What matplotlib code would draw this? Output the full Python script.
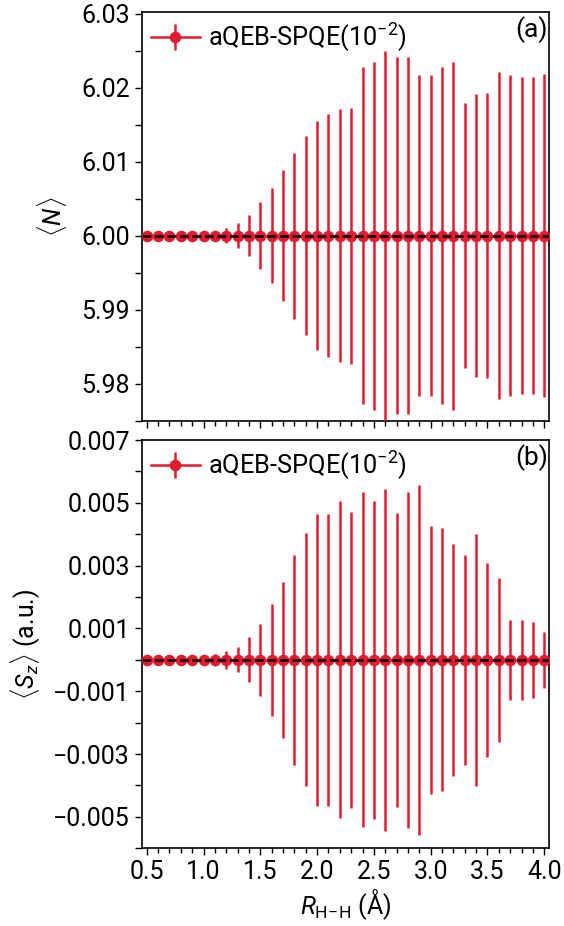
import numpy as np
import matplotlib
matplotlib.use("Agg")
import matplotlib.pyplot as plt
from matplotlib.ticker import MultipleLocator, FixedLocator

plt.rcParams['font.family'] = ['Roboto', 'DejaVu Sans']
plt.rcParams['mathtext.fontset'] = 'custom'
plt.rcParams['mathtext.rm'] = 'Roboto'
plt.rcParams['mathtext.it'] = 'Roboto:italic'
plt.rcParams['font.size'] = 18

# Bond length grid (Å)
r_hh = [0.5, 0.6, 0.7, 0.8, 0.9, 1.0, 1.1, 1.2, 1.3, 1.4, 1.5, 1.6,
        1.7, 1.8, 1.9, 2.0, 2.1, 2.2, 2.3, 2.4, 2.5, 2.6, 2.7, 2.8,
        2.9, 3.0, 3.1, 3.2, 3.3, 3.4, 3.5, 3.6, 3.7, 3.8, 3.9, 4.0]

# Particle number expectation and its spread
n_mean = [6.0] * 36
n_err = [0.0, 0.0, 0.0, 0.0, 0.0, 0.0, 0.0, 0.0010, 0.0017, 0.0028,
         0.0045, 0.0064, 0.0089, 0.0112, 0.0134, 0.0155, 0.0164, 0.0171,
         0.0173, 0.0228, 0.0235, 0.0250, 0.0241, 0.0241, 0.0217, 0.0217,
         0.0228, 0.0235, 0.0179, 0.0191, 0.0192, 0.0221, 0.0217, 0.0214,
         0.0214, 0.0218]

# Spin projection expectation and its spread
sz_mean = [0.0] * 36
sz_err = [0.0, 0.0, 0.0, 0.0, 0.0, 0.0, 0.0002, 0.00028, 0.0004, 0.00072,
          0.00115, 0.00178, 0.00248, 0.00335, 0.00403, 0.00465, 0.00465,
          0.00505, 0.00472, 0.00533, 0.00506, 0.00545, 0.00467, 0.00535,
          0.00558, 0.00427, 0.00419, 0.00370, 0.00334, 0.00402, 0.00310,
          0.00260, 0.00128, 0.00128, 0.00121, 0.00089]

label = r'aQEB-SPQE($10^{-2}$)'
red = '#E31B2E'

fig = plt.figure(figsize=(5.64, 9.26), dpi=100)
left, width = 0.2512, 0.7228
ax1 = fig.add_axes([left, 0.5457, width, 0.987 - 0.5457])
ax2 = fig.add_axes([left, 0.0839, width, 0.5248 - 0.0839], sharex=ax1)


def panel(ax, mean, err, ref, tag):
    ax.errorbar(r_hh, mean, yerr=err, fmt='o-', color=red, ms=7.3, lw=1.8,
                elinewidth=1.8, capsize=0, label=label, zorder=3)
    ax.axhline(ref, color='black', ls=(0, (3.5, 1.5)), lw=1.8, zorder=4)
    ax.legend(loc='upper left', frameon=False, fontsize=18.3,
              handlelength=1.95, handletextpad=0.3, borderaxespad=0.05,
              borderpad=0.3)
    ax.text(0.997, 0.99, tag, transform=ax.transAxes, ha='right',
            va='top', fontsize=19)
    ax.tick_params(axis='both', which='major', direction='out', length=5,
                   width=1.0, labelsize=18)
    ax.tick_params(axis='both', which='minor', direction='out', length=3.5,
                   width=1.0)
    ax.tick_params(axis='y', which='minor', length=5)
    for s in ax.spines.values():
        s.set_linewidth(1.2)


panel(ax1, n_mean, n_err, 6.0, '(a)')
panel(ax2, sz_mean, sz_err, 0.0, '(b)')

ax1.set_xlim(0.455, 4.045)
ax1.xaxis.set_major_locator(MultipleLocator(0.5))
ax1.xaxis.set_minor_locator(MultipleLocator(0.1))
plt.setp(ax1.get_xticklabels(), visible=False)

ax1.set_ylim(5.975, 6.0302)
ax1.yaxis.set_major_locator(FixedLocator([5.98, 5.99, 6.00, 6.01, 6.02, 6.03]))
ax1.yaxis.set_minor_locator(MultipleLocator(0.005))
ax1.set_yticklabels(['5.98', '5.99', '6.00', '6.01', '6.02', '6.03'])
ax1.set_ylabel(r'$\langle N\rangle$', labelpad=9)

ax2.set_ylim(-0.006, 0.007)
sz_ticks = [-0.005, -0.003, -0.001, 0.001, 0.003, 0.005, 0.007]
ax2.yaxis.set_major_locator(FixedLocator(sz_ticks))
ax2.yaxis.set_minor_locator(MultipleLocator(0.001))
ax2.set_yticklabels(['\u22120.005', '\u22120.003', '\u22120.001', '0.001',
                     '0.003', '0.005', '0.007'])
ax2.set_ylabel(r'$\langle S_z\rangle$ (a.u.)', labelpad=7)
ax2.set_xlabel(r'$R_{\mathrm{H\!-\!H}}$ (Å)', labelpad=2)

fig.savefig('out.png', dpi=100)
